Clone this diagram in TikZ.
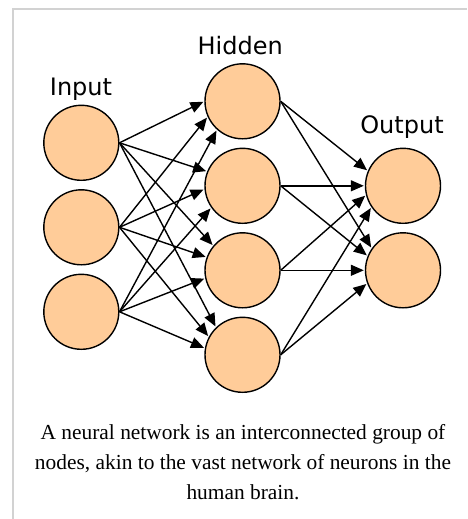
\documentclass[tikz,border=0pt]{standalone}
\usepackage{fontspec}
\setmainfont{Liberation Serif}
\newfontfamily\labelfont{DejaVu Sans}
\usetikzlibrary{arrows.meta}
\definecolor{neuronfill}{RGB}{255,204,153}
\definecolor{framegray}{RGB}{210,210,210}

\begin{document}
\begin{tikzpicture}[x=1pt, y=-1pt, >={Triangle[length=13pt,width=11pt]},
	neuron/.style={circle, draw=black, line width=1.4pt, fill=neuronfill, minimum size=75pt, inner sep=0pt},
	layer/.style={font=\labelfont\fontsize{24}{28}\selectfont, anchor=base},
	link/.style={->, line width=1.4pt, shorten >=1pt}]
	\useasboundingbox (0,0) rectangle (467,519);
	\draw[framegray, line width=1.2pt] (13,519) -- (13,9) -- (467,9);
	% layers
	\node[neuron] (i1) at (81.3,142.8) {};
	\node[neuron] (i2) at (81.3,227.3) {};
	\node[neuron] (i3) at (81.3,311.8) {};
	\node[neuron] (h1) at (242.5,101.3) {};
	\node[neuron] (h2) at (242.5,185.8) {};
	\node[neuron] (h3) at (242.5,270.3) {};
	\node[neuron] (h4) at (242.5,354.8) {};
	\node[neuron] (o1) at (403,185.8) {};
	\node[neuron] (o2) at (403,270.3) {};
	\node[layer] (inlabel) at (81,95.7) {Input};
	\node[layer] (hidlabel) at (240.2,55) {Hidden};
	\node[layer] (outlabel) at (402,133) {Output};
	% input -> hidden
	\draw[link] (i1.east) -- (h1.180);
	\draw[link] (i2.east) -- (h1.204);
	\draw[link] (i3.east) -- (h1.228);
	\draw[link] (i1.east) -- (h2.158);
	\draw[link] (i2.east) -- (h2.185);
	\draw[link] (i3.east) -- (h2.215);
	\draw[link] (i1.east) -- (h3.140);
	\draw[link] (i2.east) -- (h3.160);
	\draw[link] (i3.east) -- (h3.192);
	\draw[link] (i1.east) -- (h4.134);
	\draw[link] (i2.east) -- (h4.152);
	\draw[link] (i3.east) -- (h4.170);
	% hidden -> output
	\draw[link] (h1.east) -- (o1.157);
	\draw[link] (h2.east) -- (o1.180);
	\draw[link] (h3.east) -- (o1.194);
	\draw[link] (h4.east) -- (o1.214);
	\draw[link] (h1.east) -- (o2.145);
	\draw[link] (h2.east) -- (o2.158);
	\draw[link] (h3.east) -- (o2.180);
	\draw[link] (h4.east) -- (o2.200);
	\node[font=\fontsize{21.4}{30}\selectfont, align=center, anchor=base] (caption) at (243,499)
		{A neural network is an interconnected group of\\ nodes, akin to the vast network of neurons in the\\ human brain.};
\end{tikzpicture}
\end{document}
